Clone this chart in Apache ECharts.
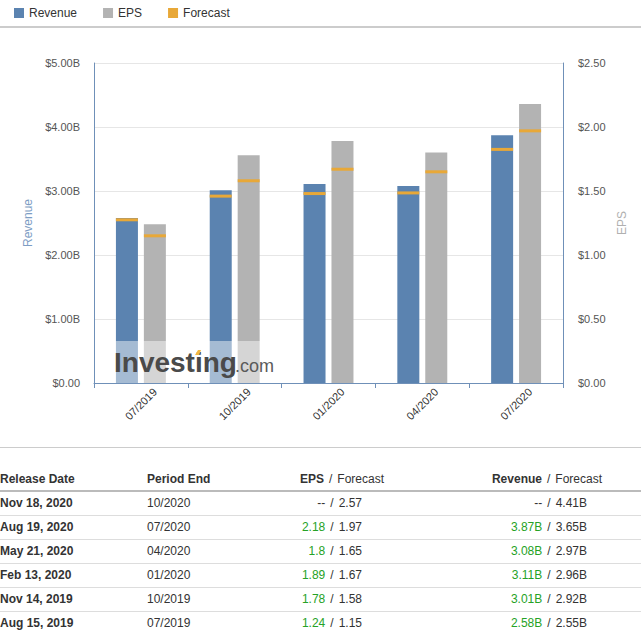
<!DOCTYPE html>
<html>
<head>
<meta charset="utf-8">
<script src="https://cdn.jsdelivr.net/npm/echarts@6/dist/echarts.min.js"></script>
<style>
  html, body { margin: 0; padding: 0; background: #fff; }
  body { width: 641px; height: 644px; position: relative; overflow: hidden; font-family: Arial, "Liberation Sans", sans-serif; }
  #chart { position: absolute; left: 0; top: 0; width: 641px; height: 440px; }
  .sep { position: absolute; left: 0; width: 641px; }
  .cell { position: absolute; font-size: 12px; color: #333; white-space: nowrap; line-height: 16px; }
  .b { font-weight: bold; }
  .r { text-align: right; }
  .g { color: #26a226; }
  .sl { margin: 0 5px; }
</style>
</head>
<body>
<div id="chart"></div>
<div class="sep" style="top:447px;height:1px;background:#cccccc"></div>
<div id="table"></div>
<script>
// chart data
var periods = ['07/2019', '10/2019', '01/2020', '04/2020', '07/2020'];
var revenue = [2.58, 3.01, 3.11, 3.08, 3.87];
var revenueForecast = [2.55, 2.92, 2.96, 2.97, 3.65];
var eps = [1.24, 1.78, 1.89, 1.80, 2.18];
var epsForecast = [1.15, 1.58, 1.67, 1.65, 1.97];

// table data (newest first)
var releaseDates = ['Nov 18, 2020', 'Aug 19, 2020', 'May 21, 2020', 'Feb 13, 2020', 'Nov 14, 2019', 'Aug 15, 2019'];
var periodEnds = ['10/2020', '07/2020', '04/2020', '01/2020', '10/2019', '07/2019'];
var epsActualTxt = ['--', '2.18', '1.8', '1.89', '1.78', '1.24'];
var epsForecastTxt = ['2.57', '1.97', '1.65', '1.67', '1.58', '1.15'];
var revActualTxt = ['--', '3.87B', '3.08B', '3.11B', '3.01B', '2.58B'];
var revForecastTxt = ['4.41B', '3.65B', '2.97B', '2.96B', '2.92B', '2.55B'];

var BLUE = '#5b83b0', GRAY = '#b3b3b3', ORANGE = '#e8a838', AXIS = '#6f90b8';
var FONT = 'Arial, "Liberation Sans", sans-serif';

var chart = echarts.init(document.getElementById('chart'), null, { renderer: 'svg' });

var option = {
  animation: false,
  textStyle: { fontFamily: FONT },
  legend: {
    left: 9, top: 2,
    itemWidth: 10, itemHeight: 10, itemGap: 26,
    icon: 'rect',
    textStyle: { fontSize: 12, color: '#333' },
    data: ['Revenue', 'EPS', 'Forecast']
  },
  grid: { left: 94, right: 78, top: 63, bottom: 57 },
  xAxis: {
    type: 'category',
    data: periods,
    axisLine: { lineStyle: { color: AXIS, width: 1 } },
    axisTick: { show: true, length: 5, lineStyle: { color: AXIS } },
    axisLabel: { rotate: 45, color: '#333', fontSize: 11, margin: 21, align: 'center', verticalAlign: 'middle' }
  },
  yAxis: [{
    type: 'value', min: 0, max: 5, interval: 1,
    name: 'Revenue', nameLocation: 'middle', nameGap: 59,
    nameTextStyle: { color: '#7d9dc4', fontSize: 12 },
    axisLine: { show: true, lineStyle: { color: AXIS } },
    axisTick: { show: false },
    axisLabel: {
      color: '#555', fontSize: 11, margin: 14,
      formatter: function (v) { return v === 0 ? '$0.00' : '$' + v.toFixed(2) + 'B'; }
    },
    splitLine: { lineStyle: { color: '#e6e6e6', width: 1 } }
  }, {
    type: 'value', min: 0, max: 2.5, interval: 0.5,
    name: 'EPS', nameLocation: 'middle', nameGap: 52,
    nameTextStyle: { color: '#b0b0b0', fontSize: 12 },
    axisLine: { show: true, lineStyle: { color: AXIS } },
    axisTick: { show: false },
    axisLabel: {
      color: '#555', fontSize: 11, margin: 15,
      formatter: function (v) { return '$' + v.toFixed(2); }
    },
    splitLine: { show: false }
  }],
  series: [{
    name: 'Revenue', type: 'bar', yAxisIndex: 0,
    data: revenue, barWidth: 22, barGap: '27%',
    itemStyle: { color: BLUE }
  }, {
    name: 'EPS', type: 'bar', yAxisIndex: 1,
    data: eps, barWidth: 22,
    itemStyle: { color: GRAY }
  }, {
    name: 'Forecast', type: 'scatter', yAxisIndex: 0,
    data: revenueForecast, symbol: 'rect', symbolSize: [22, 3], symbolOffset: [-14, 0],
    itemStyle: { color: ORANGE, opacity: 1 }, z: 5
  }, {
    name: 'Forecast', type: 'scatter', yAxisIndex: 1,
    data: epsForecast, symbol: 'rect', symbolSize: [22, 3], symbolOffset: [14, 0],
    itemStyle: { color: ORANGE, opacity: 1 }, z: 5
  }],
  graphic: [{
    type: 'line', z: 10,
    shape: { x1: 0, y1: 27, x2: 641, y2: 27 },
    style: { stroke: '#cccccc', lineWidth: 2 }
  }, {
    // faded watermark area
    type: 'rect', z: 10,
    shape: { x: 104, y: 341, width: 185, height: 42 },
    style: { fill: 'rgba(255,255,255,0.45)' }
  }, {
    type: 'text', z: 11,
    style: { x: 114, y: 376, verticalAlign: 'bottom', text: 'Investing', fill: '#4a4a4a', font: 'bold 28px ' + FONT }
  }, {
    type: 'text', z: 11,
    style: { x: 235, y: 375, verticalAlign: 'bottom', text: '.com', fill: '#5a5a5a', font: '18px ' + FONT }
  }, {
    type: 'polygon', z: 12,
    shape: { points: [[195, 355], [198, 350], [201, 350], [199, 355]] },
    style: { fill: '#f2b843' }
  }]
};

chart.setOption(option);

// table drawn as html text
var table = document.getElementById('table');
var html = '';
function cell(txt, x, y, cls, right) {
  var pos = right ? 'right:' + (641 - x) + 'px;' : 'left:' + x + 'px;';
  return '<div class="cell ' + (cls || '') + '" style="' + pos + 'top:' + (y - 8) + 'px">' + txt + '</div>';
}
html += cell('Release Date', 0, 479, 'b');
html += cell('Period End', 147, 479, 'b');
html += cell('<span class="b">EPS</span><span class="sl">/</span>Forecast', 384, 479, 'r', true);
html += cell('<span class="b">Revenue</span><span class="sl">/</span>Forecast', 602, 479, 'r', true);
html += '<div class="sep" style="top:490px;height:2px;background:#bbbbbb"></div>';
for (var i = 0; i < releaseDates.length; i++) {
  var y = 503 + i * 24;
  var ecls = epsActualTxt[i] === '--' ? '' : 'g';
  var rcls = revActualTxt[i] === '--' ? '' : 'g';
  html += cell(releaseDates[i], 0, y, 'b');
  html += cell(periodEnds[i], 147, y);
  html += cell('<span class="' + ecls + '">' + epsActualTxt[i] + '</span><span class="sl">/</span>' + epsForecastTxt[i], 362, y, 'r', true);
  html += cell('<span class="' + rcls + '">' + revActualTxt[i] + '</span><span class="sl">/</span>' + revForecastTxt[i], 587, y, 'r', true);
  if (i < releaseDates.length - 1) {
    html += '<div class="sep" style="top:' + (y + 12) + 'px;height:1px;background:#dddddd"></div>';
  }
}
table.innerHTML = html;
</script>
</body>
</html>
